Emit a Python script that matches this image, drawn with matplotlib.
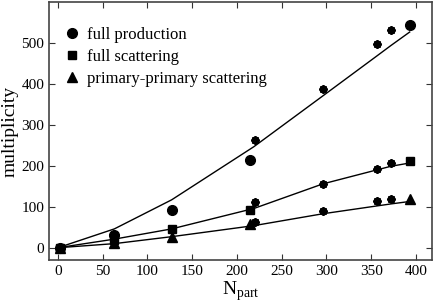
import matplotlib
matplotlib.use("Agg")
from matplotlib import pyplot as plt

plt.rcParams['font.family'] = ['Liberation Serif', 'DejaVu Serif']
plt.rcParams['mathtext.fontset'] = 'custom'
plt.rcParams['mathtext.rm'] = 'Liberation Serif'

# points from the simulation (N_part, multiplicity)
npart_sim = [2, 63, 127, 215, 393]
full_prod = [0, 30, 91, 215, 545]
full_scat = [0, 18, 45, 92, 211]
prim_scat = [0, 11, 27, 57, 118]

# star points
npart_star = [220, 296, 356, 372]
star_prod = [262, 387, 497, 533]
star_scat = [111, 156, 192, 207]
star_prim = [62, 89, 113, 119]

# lines
npart_line = [0, 63, 127, 219, 296, 356, 372, 393]
line_prod = [0, 46, 117, 247, 371, 468, 494, 527]
line_scat = [0, 21, 46, 96, 156, 190, 199, 207]
line_prim = [0, 10, 27, 54, 83, 102, 107, 113]

fig = plt.figure(figsize=(4.36, 3.05), dpi=100)
ax = fig.add_axes([0.1124, 0.1475, 0.8786, 0.8455])

for ly in (line_prod, line_scat, line_prim):
    ax.plot(npart_line, ly, c='black', lw=1.0)

ax.plot(npart_sim, full_prod, 'o', c='black', ms=7, label='full production')
ax.plot(npart_sim, full_scat, 's', c='black', ms=6, label='full scattering')
ax.plot(npart_sim, prim_scat, '^', c='black', ms=7, label='primary-primary scattering')

for sy in (star_prod, star_scat, star_prim):
    ax.plot(npart_star, sy, ls='none', marker=(8, 2, 0), c='black', ms=6, mew=1.5)

ax.set_xlim(-10, 418)
ax.set_ylim(-30, 600)
ax.set_xticks(range(0, 401, 50))
ax.set_yticks(range(0, 501, 100))
ax.tick_params(direction='in', top=True, right=True, length=4, labelsize=11, colors='#333333', labelcolor='black')
for s in ax.spines.values():
    s.set_color('#444444')
    s.set_linewidth(1.2)

ax.set_xlabel(r'N$_{\rm part}$', fontsize=14, labelpad=1)
ax.set_ylabel('multiplicity', fontsize=14, labelpad=2)

ax.legend(loc='upper left', bbox_to_anchor=(-0.005, 0.975), frameon=False, fontsize=12,
          handlelength=0.8, handletextpad=0.5, labelspacing=0.35, borderaxespad=0.7)

fig.savefig('out.png', dpi=100)
